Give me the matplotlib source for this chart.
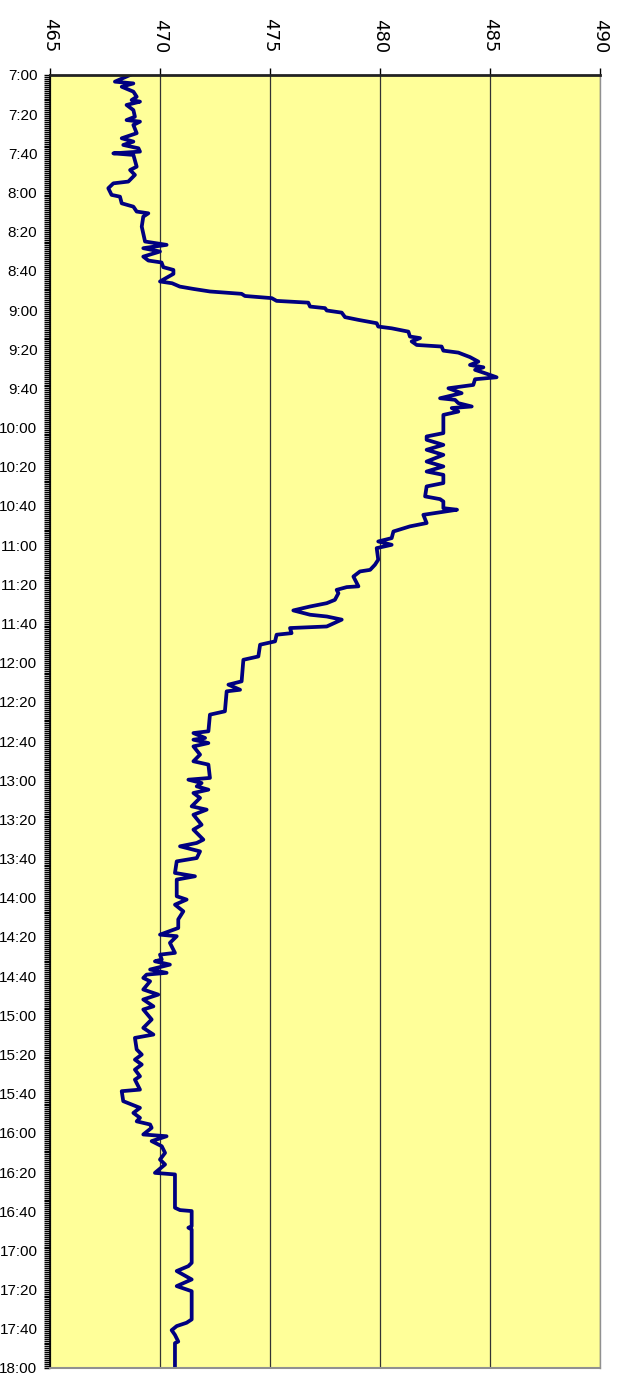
import matplotlib
matplotlib.use("Agg")
import matplotlib.pyplot as plt
from matplotlib.ticker import FixedLocator, MultipleLocator, FuncFormatter

# minutes after 7:00 and the reading at that moment
minutes = [
    0, 3.4, 4.3, 6.0, 8.5, 11.1, 12.8, 13.6, 15.3, 17.9, 21.3, 23.0, 23.8, 25.5,
    29.7, 32.3, 34.0, 35.7, 37.4, 39.1, 40.0, 40.8, 46.8, 48.5, 51.0, 54.4, 55.3,
    57.8, 61.2, 62.1, 65.5, 67.2, 69.7, 70.6, 72.3, 77.4, 85.0, 86.7, 88.4, 90.1,
    92.7, 94.7, 95.7, 98.1, 99.5, 101.5, 105.4, 106.3, 108.0, 109.2, 110.5, 111.7,
    112.8, 113.9, 115.3, 116.2, 118.2, 119.0, 120.2, 121.3, 123.6, 125.0, 126.7,
    128.4, 129.3, 131.0, 133.5, 134.3, 136.0, 137.8, 138.6, 140.7, 141.7, 144.0,
    146.3, 148.0, 149.2, 150.5, 152.2, 154.3, 155.3, 158.2, 159.9, 162.4, 165.0,
    165.8, 167.5, 169.2, 170.0, 171.8, 173.5, 182.8, 184.5, 186.2, 188.8, 191.3,
    193.9, 197.3, 199.8, 202.4, 204.1, 208.3, 210.0, 215.1, 216.5, 217.7, 221.1,
    221.9, 224.5, 228.7, 230.4, 233.0, 236.4, 238.1, 239.8, 241.5, 247.4, 250.0,
    252.6, 253.4, 256.0, 261.0, 261.4, 262.8, 264.5, 267.9, 269.6, 271.3, 273.3,
    275.5, 276.4, 278.0, 281.5, 282.3, 284.9, 285.7, 289.1, 290.8, 296.8, 298.5,
    309.5, 311.2, 313.8, 314.6, 324.8, 326.5, 335.0, 335.9, 338.4, 339.3, 341.0,
    342.7, 346.9, 350.3, 352.0, 358.8, 359.7, 361.4, 363.1, 364.8, 366.5, 369.0,
    373.3, 375.0, 377.6, 382.7, 385.2, 390.3, 392.0, 393.7, 396.3, 399.7, 401.4,
    407.3, 409.0, 410.7, 419.2, 420.9, 423.5, 426.9, 431.0, 435.4, 438.8, 439.6,
    443.0, 448.1, 449.0, 451.5, 452.4, 454.1, 456.6, 458.3, 459.2, 460.9, 462.6,
    466.8, 469.4, 471.9, 475.4, 477.0, 482.1, 486.4, 489.8, 491.5, 497.4, 500.0,
    502.6, 505.1, 507.7, 511.1, 512.8, 517.9, 518.7, 523.8, 525.5, 527.2, 529.8,
    532.3, 534.1, 535.7, 537.4, 540.8, 541.7, 544.2, 546.8, 550.2, 553.6, 556.1,
    560.4, 561.2, 578.2, 579.4, 579.9, 587.6, 588.4, 589.3, 606.3, 608.0, 610.5,
    614.8, 618.2, 620.8, 635.2, 636.9, 638.6, 640.7, 643.1, 646.5, 647.3, 660.0,
]
values = [
    468.64, 467.95, 468.79, 468.26, 468.79, 468.94, 468.71, 469.09, 468.48, 468.79,
    468.86, 468.48, 469.09, 468.79, 468.94, 468.26, 468.79, 468.33, 469.02, 469.09,
    467.88, 468.79, 468.94, 468.64, 468.86, 468.56, 467.88, 467.65, 467.80, 468.18,
    468.26, 468.79, 468.94, 469.47, 469.24, 469.17, 469.32, 470.30, 469.24, 470.00,
    469.24, 469.47, 470.07, 470.15, 470.61, 470.61, 470.00, 470.55, 470.90, 471.52,
    472.27, 473.71, 473.86, 475.08, 475.30, 476.74, 476.82, 477.50, 477.58, 478.26,
    478.41, 479.02, 479.85, 479.92, 480.53, 481.29, 481.36, 481.82, 481.44, 481.67,
    482.80, 482.88, 483.56, 484.09, 484.47, 484.09, 484.70, 484.32, 484.77, 485.30,
    484.32, 484.24, 483.11, 483.71, 482.73, 483.41, 483.56, 484.17, 483.26, 483.56,
    482.88, 482.88, 482.12, 482.12, 482.88, 482.12, 482.88, 482.12, 482.88, 482.12,
    482.88, 482.88, 482.12, 482.05, 482.73, 482.88, 482.88, 483.50, 481.97, 482.12,
    481.36, 480.61, 480.53, 479.92, 480.53, 479.85, 479.92, 479.77, 479.55, 479.09,
    478.79, 479.02, 478.49, 478.03, 478.11, 477.95, 477.58, 476.82, 476.06, 476.82,
    477.58, 478.26, 477.58, 475.91, 475.98, 475.30, 475.23, 474.55, 474.47, 473.79,
    473.71, 473.11, 473.64, 473.03, 472.95, 472.27, 472.20, 471.52, 472.05, 471.52,
    472.20, 471.52, 471.82, 471.52, 472.20, 472.27, 471.29, 471.89, 471.67, 472.20,
    471.52, 471.82, 471.44, 472.12, 471.52, 471.89, 471.52, 471.97, 471.67, 470.91,
    471.82, 471.67, 470.76, 470.68, 471.59, 470.76, 470.76, 471.21, 470.68, 471.06,
    470.83, 470.83, 470.00, 470.76, 470.45, 470.68, 470.00, 470.08, 469.77, 470.45,
    469.55, 470.30, 469.39, 469.24, 469.55, 469.24, 469.92, 469.24, 469.70, 469.24,
    469.62, 469.24, 469.70, 468.86, 468.94, 469.17, 468.86, 469.17, 468.86, 469.09,
    468.86, 469.09, 468.26, 468.33, 468.71, 469.09, 468.79, 469.09, 468.94, 469.55,
    469.62, 469.24, 470.30, 469.62, 470.08, 470.23, 470.00, 470.23, 469.77, 470.68,
    470.68, 470.91, 471.44, 471.44, 471.29, 471.44, 471.44, 471.29, 470.76, 471.44,
    470.76, 471.44, 471.44, 471.21, 470.76, 470.53, 470.68, 470.83, 470.68, 470.68,
]
value_ticks = [465, 470, 475, 480, 485, 490]
start_min = 7 * 60
end_min = 18 * 60

times = [start_min + m for m in minutes]

fig = plt.figure(figsize=(6.18, 13.79), dpi=100)
ax = fig.add_axes([50 / 618, 11 / 1379, 550 / 618, 1293 / 1379])
ax.set_facecolor("#FFFF99")

ax.plot(values, times, color="#000080", lw=2.7, solid_joinstyle="round")

ax.set_xlim(465, 490)
ax.set_ylim(end_min, start_min)

ax.xaxis.tick_top()
ax.xaxis.set_major_locator(FixedLocator(value_ticks))
ax.tick_params(axis="x", direction="out", length=5, width=1, pad=11,
               labelsize=13, labelrotation=-90, colors="black")
for lab in ax.get_xticklabels():
    lab.set_family("DejaVu Sans")

ax.yaxis.set_major_locator(FixedLocator(list(range(start_min, end_min + 1, 20))))
ax.yaxis.set_minor_locator(MultipleLocator(1))
ax.yaxis.set_major_formatter(FuncFormatter(lambda v, p: f"{int(v) // 60}:{int(v) % 60:02d}"))
ax.tick_params(axis="y", which="major", direction="out", length=4, width=1, pad=5, labelsize=11)
ax.tick_params(axis="y", which="minor", direction="out", length=4, width=1)
for lab in ax.get_yticklabels():
    lab.set_family("Liberation Sans")

ax.grid(axis="x", color="#333333", lw=0.9)
ax.grid(axis="y", visible=False)

ax.spines["top"].set_linewidth(2)
ax.spines["top"].set_color("#222222")
ax.spines["left"].set_linewidth(1.2)
ax.spines["left"].set_color("black")
ax.spines["bottom"].set_color("#909090")
ax.spines["bottom"].set_linewidth(1.5)
ax.spines["right"].set_color("#909090")
ax.spines["right"].set_linewidth(1)

fig.savefig("out.png", dpi=100)
